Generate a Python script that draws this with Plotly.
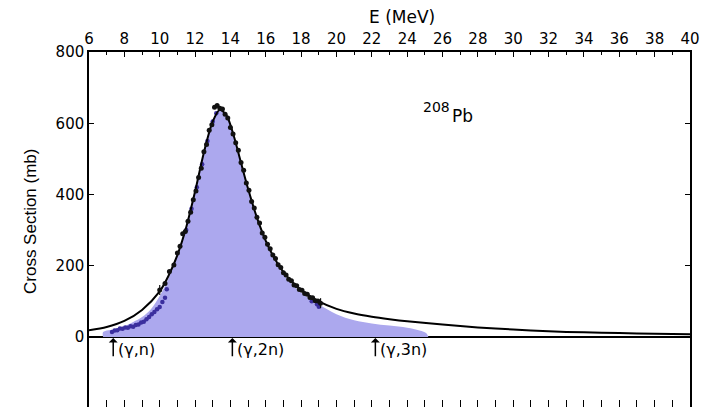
import plotly.graph_objects as go

# Fitted curve (black line)
curve_E = [6, 7, 8, 9, 10, 10.5, 11, 11.5, 12, 12.5, 13, 13.4, 13.8, 14.2, 14.6, 15, 15.5, 16,
           16.5, 17, 18, 19, 20, 21, 22, 23, 24, 26, 28, 30, 32, 34, 36, 38, 40]
curve_s = [19, 28, 45, 76, 128, 172, 230, 308, 408, 518, 605, 638, 620, 563, 489, 416, 335, 270,
           220, 182, 131, 100, 79, 66, 57, 50, 44, 35, 27, 21, 16, 13, 11, 9, 8]

# Shaded region (evaluated cross section)
shade_E = [6.8, 6.8, 7.5, 8.0, 8.5, 9.0, 9.5, 10.0, 10.5, 11, 11.5, 12, 12.5, 13, 13.4, 13.8, 14.2,
           14.6, 15, 15.5, 16, 16.5, 17, 18, 19, 20, 21, 22, 23, 24, 24.7, 25.1, 25.2]
shade_s = [0, 14, 22, 30, 42, 56, 78, 115, 165, 228, 305, 405, 515, 600, 635, 617, 560,
           486, 412, 330, 265, 214, 176, 124, 92, 64, 47, 38, 32, 26, 18, 10, 0]

# Blue data points
blue_E = [7.3, 7.45, 7.6, 7.75, 7.9, 8.05, 8.2, 8.35, 8.5, 8.65, 8.8, 8.95, 9.1, 9.25, 9.4, 9.55,
          9.7, 9.85, 10.0, 10.15, 10.3, 10.4, 11.5, 11.8, 12.1, 12.4, 12.7, 13.0, 13.2, 18.6, 18.9, 19.0]
blue_s = [14, 18, 19, 24, 23, 27, 26, 30, 29, 34, 35, 41, 43, 50, 56, 64, 70, 78, 84, 98, 110, 134,
          300, 360, 420, 485, 550, 605, 628, 100, 92, 85]

# Black data points
black_E = [10.0, 10.3, 10.55, 10.8, 11.0, 11.15, 11.3, 11.45, 11.6, 11.75, 11.9, 12.05, 12.2, 12.35,
           12.5, 12.65, 12.8, 12.95, 13.1, 13.25, 13.4, 13.55, 13.7, 13.85, 14.0, 14.15, 14.3, 14.45,
           14.6, 14.75, 14.9, 15.05, 15.2, 15.35, 15.5, 15.65, 15.8, 15.95, 16.1, 16.25, 16.4, 16.55,
           16.7, 16.85, 17.0, 17.15, 17.3, 17.45, 17.6, 17.75, 17.9, 18.05, 18.2, 18.35, 18.5, 18.65,
           18.8, 18.95, 19.1]
black_s = [132, 150, 184, 202, 236, 255, 290, 296, 325, 350, 385, 410, 448, 474, 520, 540, 580, 596,
           645, 650, 642, 640, 625, 615, 588, 570, 545, 524, 490, 468, 432, 412, 380, 362, 336, 320,
           292, 280, 260, 248, 230, 220, 203, 195, 180, 174, 162, 158, 146, 144, 133, 131, 122, 120,
           111, 110, 102, 101, 95]
black_err = [14] + [0] * 57 + [14]

# Reaction thresholds
thr_E = [7.37, 14.11, 22.2]
thr_labels = ["(γ,n)", "(γ,2n)", "(γ,3n)"]

top_ticks = list(range(6, 41, 2))
bottom_ticks = list(range(6, 41, 1))
y_ticks = [0, 200, 400, 600, 800]

FONT = "DejaVu Sans"

fig = go.Figure()
fig.add_trace(go.Scatter(x=shade_E, y=shade_s, mode="lines", line=dict(width=0, shape="spline"),
                         fill="toself", fillcolor="#ACA8EE", hoverinfo="skip"))
fig.add_trace(go.Scatter(x=blue_E, y=blue_s, mode="markers",
                         marker=dict(size=4.5, color="#3B2F9E")))
fig.add_trace(go.Scatter(x=curve_E, y=curve_s, mode="lines",
                         line=dict(color="black", width=2, shape="spline", smoothing=0.8)))
fig.add_trace(go.Scatter(x=black_E, y=black_s, mode="markers",
                         marker=dict(size=5, color="#111111"),
                         error_y=dict(type="data", array=black_err, visible=True,
                                      color="#111111", thickness=1.2, width=0)))
# carrier for the bottom tick axis
fig.add_trace(go.Scatter(x=[bottom_ticks[0], bottom_ticks[-1]], y=[0, 0], xaxis="x2", mode="lines",
                         line=dict(width=0), opacity=0, hoverinfo="skip"))

annotations = []
for e, lab in zip(thr_E, thr_labels):
    annotations.append(dict(x=e, y=-3, xref="x", yref="y", ax=e, ay=-58, axref="x", ayref="y",
                            showarrow=True, arrowhead=1, arrowsize=1, arrowwidth=1.5,
                            arrowcolor="black", text=""))
    annotations.append(dict(x=e + 0.15, y=-36, xref="x", yref="y", text=lab, showarrow=False,
                            xanchor="left", yanchor="middle",
                            font=dict(family=FONT, size=16, color="black")))

annotations.append(dict(x=(402 - 89) / 601, y=(407 - 17) / 355, xref="paper", yref="paper",
                        text="E (MeV)", showarrow=False, xanchor="center", yanchor="middle",
                        font=dict(family=FONT, size=17, color="black")))
annotations.append(dict(x=(30 - 89) / 601, y=(407 - 222) / 355, xref="paper", yref="paper",
                        text="Cross Section (mb)", textangle=-90, showarrow=False,
                        xanchor="center", yanchor="middle",
                        font=dict(family="Liberation Sans", size=17, color="black")))
annotations.append(dict(x=(436 - 89) / 601, y=(407 - 107) / 355, xref="paper", yref="paper",
                        text="208", showarrow=False, xanchor="center", yanchor="middle",
                        font=dict(family=FONT, size=14, color="black")))
annotations.append(dict(x=(462 - 89) / 601, y=(407 - 116) / 355, xref="paper", yref="paper",
                        text="Pb", showarrow=False, xanchor="center", yanchor="middle",
                        font=dict(family=FONT, size=17, color="black")))

fig.update_layout(
    width=710, height=407,
    margin=dict(l=89, r=20, t=52, b=0),
    paper_bgcolor="white", plot_bgcolor="white",
    showlegend=False,
    annotations=annotations,
    xaxis=dict(range=[6, 40], side="top", tickmode="array", tickvals=top_ticks,
               ticktext=[str(t) for t in top_ticks], ticks="inside", ticklen=5, tickwidth=1.3,
               tickcolor="black", showline=True, linecolor="black", linewidth=1.5,
               showgrid=False, zeroline=False,
               minor=dict(dtick=1, ticks="inside", ticklen=3, tickcolor="black", tickwidth=1.2),
               tickfont=dict(family=FONT, size=15, color="black")),
    xaxis2=dict(range=[6, 40], overlaying="x", anchor="y", side="bottom",
                tickmode="array", tickvals=bottom_ticks, ticks="inside", ticklen=7, tickwidth=1.3,
                tickcolor="black", showticklabels=False, showline=False, showgrid=False,
                zeroline=False),
    yaxis=dict(range=[-196.5, 800], tickmode="array", tickvals=y_ticks,
               ticktext=[str(t) for t in y_ticks], ticks="inside", ticklen=5, tickwidth=1.3,
               tickcolor="black", showline=True, linecolor="black", linewidth=1.5,
               mirror="ticks", showgrid=False, zeroline=True, zerolinecolor="black",
               zerolinewidth=1.5, tickfont=dict(family=FONT, size=15, color="black")),
)

fig.write_html("out.html")
